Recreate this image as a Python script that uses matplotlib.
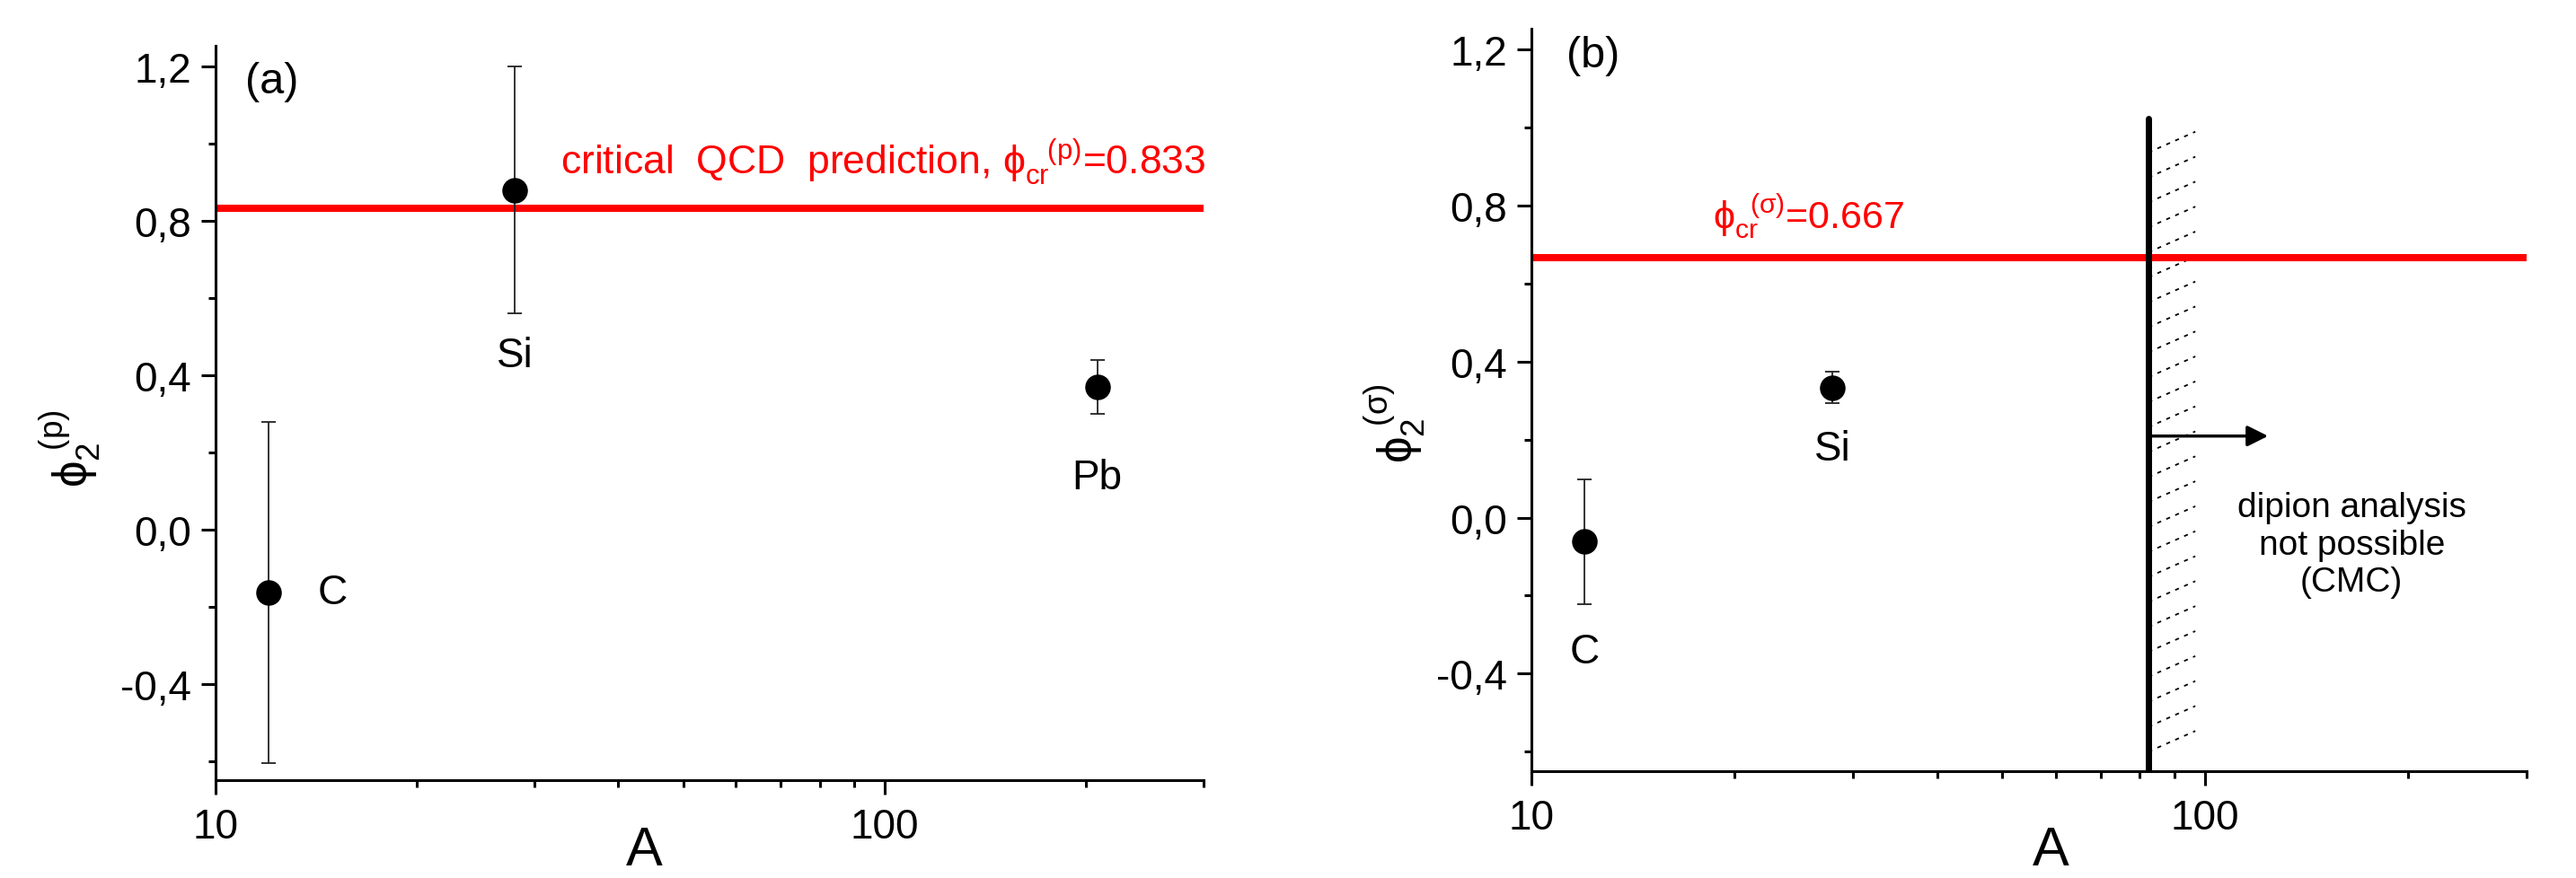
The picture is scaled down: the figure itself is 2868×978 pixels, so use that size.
import numpy as np
import matplotlib
matplotlib.use("Agg")
import matplotlib.pyplot as plt

plt.rcParams['font.family'] = ['Liberation Sans', 'DejaVu Sans']
plt.rcParams['mathtext.fontset'] = 'custom'
plt.rcParams['mathtext.rm'] = 'Liberation Sans'
plt.rcParams['mathtext.it'] = 'Liberation Sans'
plt.rcParams['mathtext.fallback'] = 'stixsans'

# ---------------- data ----------------
nuclei_a = ['C', 'Si', 'Pb']
A_a = [12, 28, 208]
phi_a = [-0.163, 0.879, 0.369]
err_a = [0.442, 0.32, 0.07]
phi_cr_p = 0.833

nuclei_b = ['C', 'Si']
A_b = [12, 28]
phi_b = [-0.062, 0.333]
err_b = [0.159, 0.04]
phi_cr_s = 0.667

A_cut = 82.4          # dipion analysis limit
A_hatch_end = 96.7
cut_top = 1.022
arrow_y = 0.209
arrow_end = 124

yticks = [-0.4, 0.0, 0.4, 0.8, 1.2]
ytick_labels = ['-0,4', '0,0', '0,4', '0,8', '1,2']
yminor = [-0.6, -0.2, 0.2, 0.6, 1.0]
xticks = [10, 100]
xtick_labels = ['10', '100']
ylim = (-0.65, 1.253)
xlim = (10, 300)

W, H = 2868, 979
fig = plt.figure(figsize=(W / 100, H / 100), dpi=100)


def px_axes(l, r, t, b):
    return [l / W, 1 - b / H, (r - l) / W, (b - t) / H]


axa = fig.add_axes(px_axes(240, 1340, 52, 870))
axb = fig.add_axes(px_axes(1705, 2813, 33, 860))


def style(ax):
    ax.set_xscale('log')
    ax.set_xlim(*xlim)
    ax.set_ylim(*ylim)
    for s in ['top', 'right']:
        ax.spines[s].set_visible(False)
    for s in ['left', 'bottom']:
        ax.spines[s].set_linewidth(2.2)
    ax.set_xticks(xticks)
    ax.set_xticklabels(xtick_labels)
    ax.set_xticks([v * d for d in (10, 100) for v in range(2, 10) if v * d <= 300], minor=True)
    ax.set_xticklabels([], minor=True)
    ax.set_yticks(yticks)
    ax.set_yticklabels(ytick_labels)
    ax.set_yticks(yminor, minor=True)
    ax.tick_params(which='major', direction='out', length=11.5, width=2.2, labelsize=33)
    ax.tick_params(which='minor', direction='out', length=6, width=2.2)
    ax.tick_params(axis='x', which='major', pad=10)
    ax.tick_params(axis='y', which='major', pad=8)


style(axa)
style(axb)

# axis titles
fig.text(717 / W, 1.5 / H, 'A', fontsize=44, ha='center', va='bottom')
fig.text(2283 / W, 1.5 / H, 'A', fontsize=44, ha='center', va='bottom')
fig.text(78 / W, 1 - 500 / H, r'$\phi_2^{\;(p)}$', fontsize=38, rotation=90,
         ha='center', va='center')
fig.text(1553 / W, 1 - 472 / H, r'$\phi_2^{\;(\sigma)}$', fontsize=38, rotation=90,
         ha='center', va='center')

eb_kw = dict(fmt='o', color='black', ms=19.5, ecolor='#222222', elinewidth=1.3,
             capsize=6, capthick=1.3, zorder=3)

# ---- panel (a) ----
axa.axhline(phi_cr_p, color='#ff0000', lw=5.8, zorder=2)
axa.errorbar(A_a, phi_a, yerr=err_a, **eb_kw)
axa.text(14.2, phi_a[0], nuclei_a[0], fontsize=33, va='center', ha='left')
axa.text(A_a[1], 0.451, nuclei_a[1], fontsize=33, va='center', ha='center')
axa.text(A_a[2], 0.135, nuclei_a[2], fontsize=33, va='center', ha='center')
axa.text(12.15, 1.16, '(a)', fontsize=35, va='center', ha='center')
axa.text(32.8, 0.953,
         r'critical  QCD  prediction, $\phi_{cr}^{\;\;\;(p)}$=0.833',
         color='#ff0000', fontsize=32, va='center', ha='left')

# ---- panel (b) ----
axb.axhline(phi_cr_s, color='#ff0000', lw=5.8, zorder=2)
axb.errorbar(A_b, phi_b, yerr=err_b, **eb_kw)
axb.text(A_b[0], -0.343, nuclei_b[0], fontsize=33, va='center', ha='center')
axb.text(A_b[1], 0.175, nuclei_b[1], fontsize=33, va='center', ha='center')
axb.text(12.33, 1.186, '(b)', fontsize=35, va='center', ha='center')
axb.text(18.6, 0.772, r'$\phi_{cr}^{\;\;(\sigma)}$=0.667',
         color='#ff0000', fontsize=31, va='center', ha='left')

# hatched band
hatch_rise = 0.053
for y0 in np.arange(-0.60, 0.96, 0.064):
    axb.plot([A_cut, A_hatch_end], [y0, y0 + hatch_rise], color='black',
             lw=1.3, ls=(0, (2.5, 3.5)), zorder=1)
axb.plot([A_cut, A_cut], [ylim[0], cut_top], color='black', lw=5,
         solid_capstyle='round', zorder=4)
axb.annotate('', xy=(arrow_end, arrow_y), xytext=(A_cut, arrow_y),
             arrowprops=dict(arrowstyle='-|>', color='black', lw=2.5,
                             mutation_scale=35, shrinkA=0, shrinkB=0), zorder=5)
axb.text(165, -0.069, 'dipion analysis\nnot possible\n(CMC)', fontsize=28,
         va='center', ha='center', multialignment='center', linespacing=1.2)

fig.savefig('out.png', dpi=100)
